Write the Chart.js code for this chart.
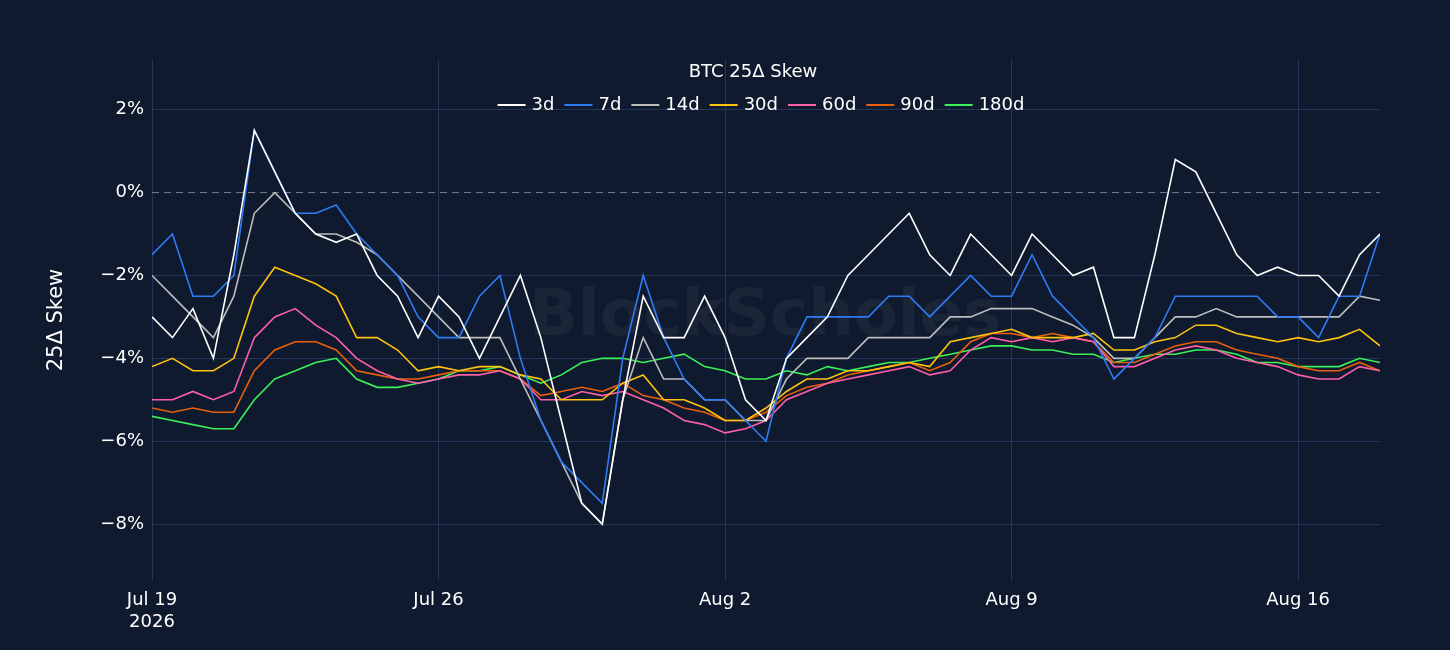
<!DOCTYPE html>
<html>
<head>
<meta charset="utf-8">
<script src="https://cdn.jsdelivr.net/npm/chart.js@4"></script>
<style>
  html, body { margin: 0; padding: 0; background: #0f1a2e; }
  #wrap { width: 1450px; height: 650px; }
</style>
</head>
<body>
<div id="wrap"><canvas id="skew"></canvas></div>
<script>
// days since Jul 19 2026, every 12 hours
const days = [];
for (let i = 0; i <= 60; i++) days.push(i / 2);

const tickDays = [0, 7, 14, 21, 28];
const tickLabels = [['Jul 19', '2026'], 'Jul 26', 'Aug 2', 'Aug 9', 'Aug 16'];
const seriesNames = ['3d', '7d', '14d', '30d', '60d', '90d', '180d'];
const seriesColors = ['#ffffff', '#2f7bf5', '#bdbdbd', '#ffc20e', '#ff5fa8', '#e8600c', '#3cf05a'];

const skew3d = [-3,-3.5,-2.8,-4,-1.5,1.5,0.5,-0.5,-1,-1.2,-1,-2,-2.5,-3.5,-2.5,-3,-4,-3,-2,-3.5,-5.5,-7.5,-8,-5,-2.5,-3.5,-3.5,-2.5,-3.5,-5,-5.5,-4,-3.5,-3,-2,-1.5,-1,-0.5,-1.5,-2,-1,-1.5,-2,-1,-1.5,-2,-1.8,-3.5,-3.5,-1.5,0.8,0.5,-0.5,-1.5,-2,-1.8,-2,-2,-2.5,-1.5,-1];
const skew7d = [-1.5,-1,-2.5,-2.5,-2,1.5,0.5,-0.5,-0.5,-0.3,-1,-1.5,-2,-3,-3.5,-3.5,-2.5,-2,-4,-5.5,-6.5,-7,-7.5,-4,-2,-3.5,-4.5,-5,-5,-5.5,-6,-4,-3,-3,-3,-3,-2.5,-2.5,-3,-2.5,-2,-2.5,-2.5,-1.5,-2.5,-3,-3.5,-4.5,-4,-3.5,-2.5,-2.5,-2.5,-2.5,-2.5,-3,-3,-3.5,-2.5,-2.5,-1];
const skew14d = [-2,-2.5,-3,-3.5,-2.5,-0.5,0,-0.5,-1,-1,-1.2,-1.5,-2,-2.5,-3,-3.5,-3.5,-3.5,-4.5,-5.5,-6.5,-7.5,-8,-5,-3.5,-4.5,-4.5,-5,-5,-5.5,-5.5,-4.5,-4,-4,-4,-3.5,-3.5,-3.5,-3.5,-3,-3,-2.8,-2.8,-2.8,-3,-3.2,-3.5,-4,-4,-3.5,-3,-3,-2.8,-3,-3,-3,-3,-3,-3,-2.5,-2.6];
const skew30d = [-4.2,-4,-4.3,-4.3,-4,-2.5,-1.8,-2,-2.2,-2.5,-3.5,-3.5,-3.8,-4.3,-4.2,-4.3,-4.2,-4.2,-4.4,-4.5,-5,-5,-5,-4.6,-4.4,-5,-5,-5.2,-5.5,-5.5,-5.2,-4.8,-4.5,-4.5,-4.3,-4.3,-4.2,-4.1,-4.2,-3.6,-3.5,-3.4,-3.3,-3.5,-3.5,-3.5,-3.4,-3.8,-3.8,-3.6,-3.5,-3.2,-3.2,-3.4,-3.5,-3.6,-3.5,-3.6,-3.5,-3.3,-3.7];
const skew60d = [-5,-5,-4.8,-5,-4.8,-3.5,-3,-2.8,-3.2,-3.5,-4,-4.3,-4.5,-4.6,-4.5,-4.4,-4.4,-4.3,-4.5,-5,-5,-4.8,-4.9,-4.8,-5,-5.2,-5.5,-5.6,-5.8,-5.7,-5.5,-5,-4.8,-4.6,-4.5,-4.4,-4.3,-4.2,-4.4,-4.3,-3.8,-3.5,-3.6,-3.5,-3.6,-3.5,-3.6,-4.2,-4.2,-4,-3.8,-3.7,-3.8,-4,-4.1,-4.2,-4.4,-4.5,-4.5,-4.2,-4.3];
const skew90d = [-5.2,-5.3,-5.2,-5.3,-5.3,-4.3,-3.8,-3.6,-3.6,-3.8,-4.3,-4.4,-4.5,-4.5,-4.4,-4.3,-4.3,-4.3,-4.5,-4.9,-4.8,-4.7,-4.8,-4.6,-4.9,-5,-5.2,-5.3,-5.5,-5.5,-5.3,-4.9,-4.7,-4.6,-4.4,-4.3,-4.2,-4.1,-4.3,-4.1,-3.6,-3.4,-3.4,-3.5,-3.4,-3.5,-3.6,-4.1,-4.1,-3.9,-3.7,-3.6,-3.6,-3.8,-3.9,-4,-4.2,-4.3,-4.3,-4.1,-4.3];
const skew180d = [-5.4,-5.5,-5.6,-5.7,-5.7,-5,-4.5,-4.3,-4.1,-4,-4.5,-4.7,-4.7,-4.6,-4.5,-4.3,-4.3,-4.2,-4.4,-4.6,-4.4,-4.1,-4,-4,-4.1,-4,-3.9,-4.2,-4.3,-4.5,-4.5,-4.3,-4.4,-4.2,-4.3,-4.2,-4.1,-4.1,-4,-3.9,-3.8,-3.7,-3.7,-3.8,-3.8,-3.9,-3.9,-4.1,-4,-3.9,-3.9,-3.8,-3.8,-3.9,-4.1,-4.1,-4.2,-4.2,-4.2,-4,-4.1];
const allSeries = [skew3d, skew7d, skew14d, skew30d, skew60d, skew90d, skew180d];

const FONT = '"DejaVu Sans", Verdana, sans-serif';

// title, legend, zero line and watermark inside the plot area
const overlay = {
  id: 'overlay',
  beforeDatasetsDraw(chart) {
    const { ctx, chartArea, scales } = chart;
    const y0 = scales.y.getPixelForValue(0);
    ctx.save();
    ctx.strokeStyle = 'rgba(200,210,225,0.55)';
    ctx.setLineDash([7, 5]);
    ctx.lineWidth = 1;
    ctx.beginPath();
    ctx.moveTo(chartArea.left, y0);
    ctx.lineTo(chartArea.right, y0);
    ctx.stroke();
    ctx.setLineDash([]);
    ctx.fillStyle = 'rgba(255,255,255,0.05)';
    ctx.font = `bold 64px ${FONT}`;
    ctx.textAlign = 'center';
    ctx.textBaseline = 'middle';
    ctx.fillText('BlockScholes', 765, 318);
    ctx.restore();
  },
  afterDraw(chart) {
    const { ctx } = chart;
    ctx.save();
    ctx.fillStyle = '#ffffff';
    ctx.font = `18px ${FONT}`;
    ctx.textAlign = 'center';
    ctx.textBaseline = 'middle';
    ctx.fillText('BTC 25\u0394 Skew', 753, 72);
    const widths = seriesNames.map(n => 34 + ctx.measureText(n).width + 10);
    const total = widths.reduce((a, b) => a + b, 0);
    let x = 766 - total / 2;
    ctx.textAlign = 'left';
    seriesNames.forEach((n, i) => {
      ctx.strokeStyle = seriesColors[i];
      ctx.lineWidth = 2;
      ctx.beginPath();
      ctx.moveTo(x, 105);
      ctx.lineTo(x + 28, 105);
      ctx.stroke();
      ctx.fillText(n, x + 34, 105);
      x += widths[i];
    });
    ctx.restore();
  }
};

new Chart(document.getElementById('skew'), {
  type: 'line',
  data: {
    datasets: seriesNames.map((name, i) => ({
      label: name,
      data: days.map((d, j) => ({ x: d, y: allSeries[i][j] })),
      borderColor: seriesColors[i],
      borderWidth: 1.6,
      pointRadius: 0,
      tension: 0
    }))
  },
  options: {
    responsive: true,
    maintainAspectRatio: false,
    animation: false,
    layout: { padding: { left: 40, right: 70, top: 60, bottom: 0 } },
    plugins: { legend: { display: false }, tooltip: { enabled: false } },
    scales: {
      x: {
        type: 'linear',
        min: 0,
        max: 30,
        afterBuildTicks: axis => { axis.ticks = tickDays.map(v => ({ value: v })); },
        afterFit: axis => { axis.height = 70; },
        ticks: {
          color: '#ffffff',
          font: { family: FONT, size: 18 },
          maxRotation: 0,
          autoSkip: false,
          padding: 10,
          callback: v => tickLabels[tickDays.indexOf(v)]
        },
        grid: { color: '#24365a', drawTicks: false },
        border: { display: false }
      },
      y: {
        min: -9.35,
        max: 3.2,
        afterBuildTicks: axis => { axis.ticks = [2, 0, -2, -4, -6, -8].map(v => ({ value: v })); },
        afterFit: axis => { axis.width = 112; },
        ticks: {
          color: '#ffffff',
          font: { family: FONT, size: 18 },
          padding: 8,
          callback: v => (v < 0 ? '\u2212' + Math.abs(v) : v) + '%'
        },
        title: {
          display: true,
          text: '25\u0394 Skew',
          color: '#ffffff',
          font: { family: FONT, size: 21 }
        },
        grid: { color: c => (c.tick && c.tick.value === 0 ? 'rgba(0,0,0,0)' : '#24365a'), drawTicks: false },
        border: { display: false }
      }
    }
  },
  plugins: [overlay]
});
</script>
</body>
</html>
